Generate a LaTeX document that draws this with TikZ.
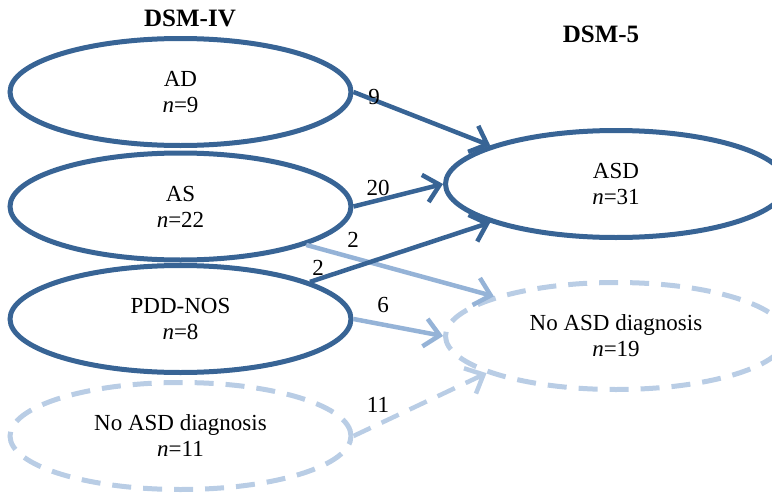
\documentclass[tikz,border=0pt]{standalone}
\usepackage{fontspec}
\setmainfont{Liberation Serif}
\usetikzlibrary{shapes.geometric,arrows.meta}
\definecolor{darkblue}{RGB}{56,100,149}
\definecolor{midblue}{RGB}{149,179,215}
\definecolor{paleblue}{RGB}{185,205,229}
\begin{document}
\begin{tikzpicture}[x=1pt,y=-1pt,
  every node/.style={font=\fontsize{23}{26}\selectfont},
  oval/.style={ellipse, draw=darkblue, line width=5pt, minimum width=341pt, minimum height=107pt, inner sep=0pt, align=center},
  dashoval/.style={oval, draw=paleblue, dash pattern=on 19pt off 12pt},
  flow/.style={line width=4.5pt, -{Straight Barb[length=15pt,width=28pt]}},
  darkflow/.style={flow, draw=darkblue},
  midflow/.style={flow, draw=midblue},
  paleflow/.style={flow, draw=paleblue, dash pattern=on 19pt off 12pt},
  head/.style={font=\fontsize{25}{26}\selectfont\bfseries},
  num/.style={inner sep=1pt}]
\useasboundingbox (0,0) rectangle (772,498);
\node[head] (h4) at (190,18) {DSM-IV};
\node[head] (h5) at (601,34) {DSM-5};
\node[oval] (AD) at (180.5,92) {AD\\\textit{n}=9};
\node[oval] (AS) at (180.5,206.5) {AS\\\textit{n}=22};
\node[oval] (PDD) at (180.5,319) {PDD-NOS\\\textit{n}=8};
\node[dashoval] (NL) at (180.5,436) {No ASD diagnosis\\\textit{n}=11};
\node[oval] (ASD) at (616,184) {ASD\\\textit{n}=31};
\node[dashoval] (NR) at (616,336) {No ASD diagnosis\\\textit{n}=19};
\draw[darkflow] (AD.east) -- (ASD.163.4);
\draw[darkflow] (AS.east) -- (ASD.west);
\draw[midflow] (AS.343.4) -- (NR.162);
\draw[darkflow] (PDD.16.5) -- (ASD.197);
\draw[midflow] (PDD.east) -- (NR.west);
\draw[paleflow] (NL.east) -- (NR.196.7);
\node[num] (l9) at (374,97) {9};
\node[num] (l20) at (378,188) {20};
\node[num] (l2a) at (353,240) {2};
\node[num] (l2b) at (318,268) {2};
\node[num] (l6) at (383,305) {6};
\node[num] (l11) at (378,405) {11};
\end{tikzpicture}
\end{document}
